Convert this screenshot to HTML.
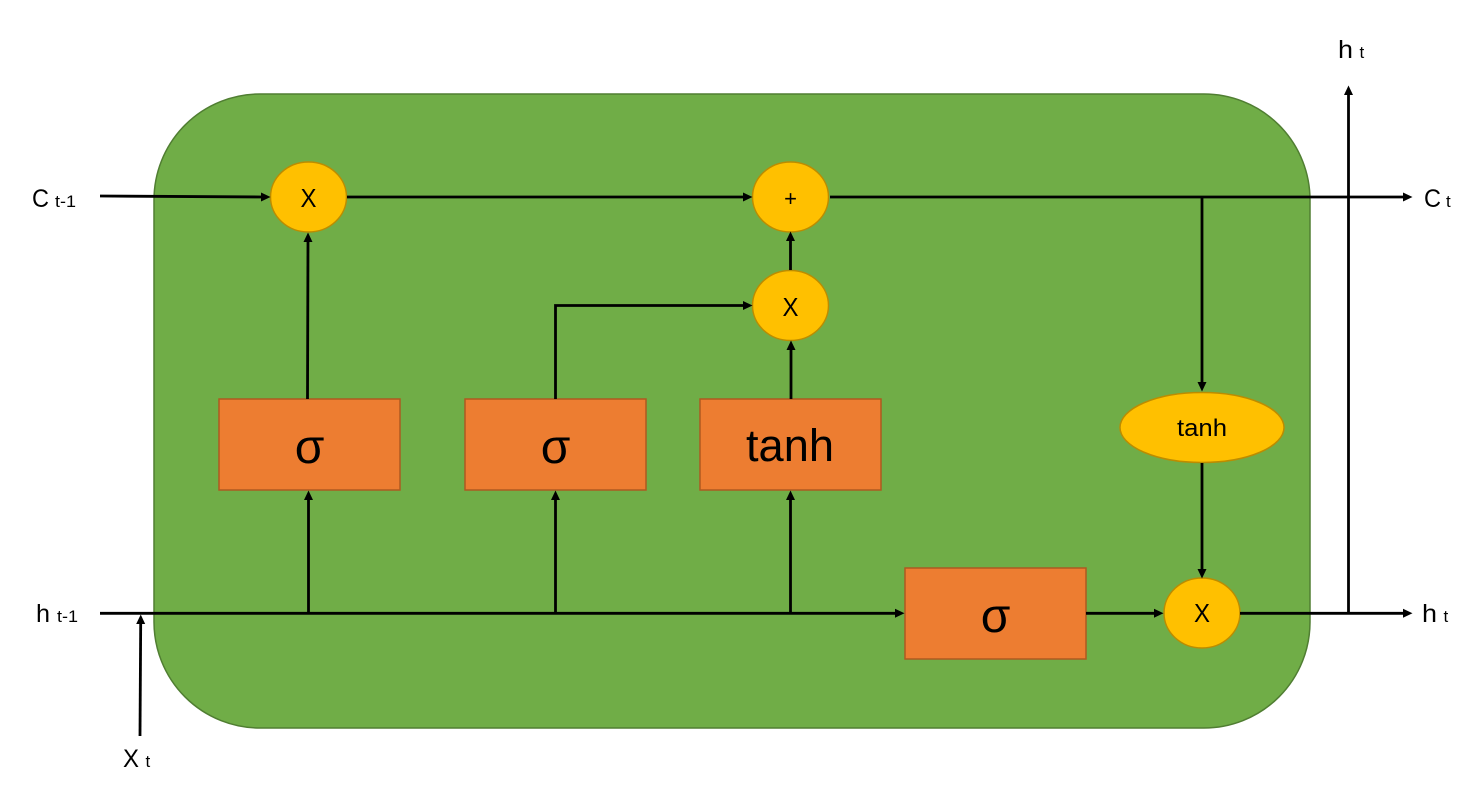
<!DOCTYPE html>
<html><head><meta charset="utf-8"><style>
html,body{margin:0;padding:0;background:#fff}
svg{display:block}
text{font-family:"Liberation Sans","DejaVu Sans",sans-serif;fill:#000}
.c{text-anchor:middle}
</style></head><body>
<svg width="1458" height="803" viewBox="0 0 1458 803" xmlns="http://www.w3.org/2000/svg">
<defs><marker id="a" markerUnits="userSpaceOnUse" markerWidth="11" markerHeight="11" refX="2" refY="5" orient="auto"><path d="M0 .5L9.500 5L0 9.500z" fill="#000"/></marker></defs>
<rect width="1458" height="803" fill="#fff"/>
<rect x="154" y="94" width="1156" height="634" rx="106" fill="#70ad47" stroke="#507e32" stroke-width="1.5"/>
<g fill="#ed7d31" stroke="#ae5a21" stroke-width="1.5">
<rect x="219" y="399" width="181" height="91"/><rect x="465" y="399" width="181" height="91"/><rect x="700" y="399" width="181" height="91"/><rect x="905" y="568" width="181" height="91"/></g>
<g fill="#ffc000" stroke="#bc8c00" stroke-width="1.5">
<ellipse cx="308.500" cy="197" rx="38" ry="35"/><ellipse cx="790.500" cy="197" rx="38" ry="35"/><ellipse cx="790.500" cy="305.500" rx="38" ry="35"/><ellipse cx="1202" cy="427.500" rx="82" ry="35"/><ellipse cx="1202" cy="613" rx="38" ry="35"/></g>
<g fill="none" stroke="#000" stroke-width="2.800">
<path d="M100 196L263 197" marker-end="url(#a)"/><path d="M347 197H745" marker-end="url(#a)"/><path d="M830 197H1405" marker-end="url(#a)"/>
<path d="M307.500 399L308 240" marker-end="url(#a)"/><path d="M790.500 270V239" marker-end="url(#a)"/><path d="M555.500 399V305.500H745" marker-end="url(#a)"/><path d="M791 399V348" marker-end="url(#a)"/>
<path d="M1202 197V384" marker-end="url(#a)"/><path d="M1202 463V571" marker-end="url(#a)"/>
<path d="M100 613.300H897" marker-end="url(#a)"/><path d="M308.500 613V498" marker-end="url(#a)"/><path d="M555.500 613V498" marker-end="url(#a)"/><path d="M790.500 613V498" marker-end="url(#a)"/>
<path d="M1086 613.300H1156" marker-end="url(#a)"/><path d="M1240 613.300H1405" marker-end="url(#a)"/><path d="M1348.500 613V93" marker-end="url(#a)"/><path d="M140 736L140.700 622" marker-end="url(#a)"/>
</g>
<g font-size="48"><text class="c" x="309.500" y="463">σ</text><text class="c" x="555.500" y="463">σ</text><text class="c" x="995.500" y="632">σ</text></g>
<text class="c" x="790" y="461" font-size="45" textLength="88" lengthAdjust="spacingAndGlyphs">tanh</text>
<g font-size="26">
<text class="c" x="308.500" y="207" textLength="16" lengthAdjust="spacingAndGlyphs">X</text>
<text class="c" x="790.500" y="316" textLength="16" lengthAdjust="spacingAndGlyphs">X</text>
<text class="c" x="1202" y="622" textLength="16" lengthAdjust="spacingAndGlyphs">X</text>
</g>
<text class="c" x="790.500" y="206" font-size="22">+</text>
<text class="c" x="1202" y="436" font-size="24" textLength="50" lengthAdjust="spacingAndGlyphs">tanh</text>
<g font-size="25">
<text x="32" y="207" textLength="17" lengthAdjust="spacingAndGlyphs">C</text>
<text x="36" y="622" textLength="14" lengthAdjust="spacingAndGlyphs">h</text>
<text x="123" y="767" textLength="16" lengthAdjust="spacingAndGlyphs">X</text>
<text x="1338" y="58" textLength="15" lengthAdjust="spacingAndGlyphs">h</text>
<text x="1424" y="207" textLength="17" lengthAdjust="spacingAndGlyphs">C</text>
<text x="1422" y="622" textLength="15" lengthAdjust="spacingAndGlyphs">h</text>
</g>
<g font-size="17">
<text x="55" y="207" textLength="21" lengthAdjust="spacingAndGlyphs">t-1</text>
<text x="57" y="622" textLength="21" lengthAdjust="spacingAndGlyphs">t-1</text>
<text x="145.500" y="767">t</text>
<text x="1359.500" y="58">t</text>
<text x="1446" y="207">t</text>
<text x="1443.500" y="622">t</text>
</g>
</svg>
</body></html>
